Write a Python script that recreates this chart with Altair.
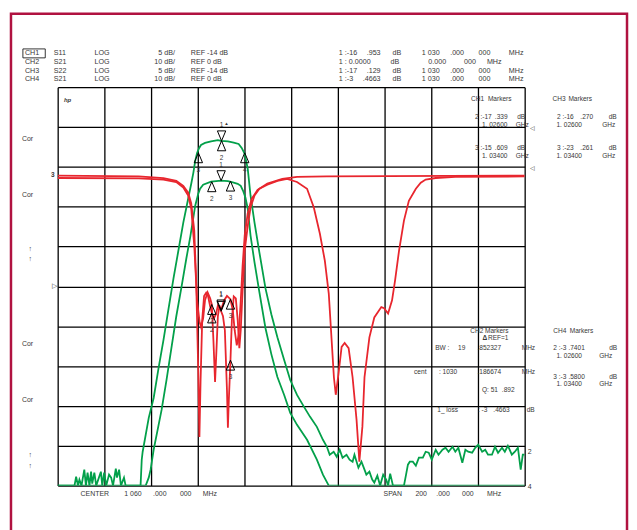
import altair as alt
import pandas as pd

FONT = "Liberation Sans"
INK = "#383838"
RED = "#e8262e"
GREEN = "#03a04a"
BORDER = "#b01240"

X0, Y0 = 58, 86          # page position of the graticule
W, H = 470, 401

HDR = 7.2    # header font size
PAN = 6.6    # marker panel font size

# ---------------- data ----------------
F_DOMAIN = [960, 1160]   # CENTER 1060 MHz, SPAN 200 MHz
GRID_F = [960, 980, 1000, 1020, 1040, 1060, 1080, 1100, 1120, 1140, 1160]

# CH1 S11, 5 dB/div, REF -14 dB
ch1_f = [960.0, 994.7, 1005.3, 1010.8, 1013.8, 1015.9, 1017.2, 1018.5, 1019.3, 1020.2,
         1020.7, 1021.2, 1021.9, 1022.7, 1023.6, 1024.4, 1025.3, 1026.0, 1026.9, 1027.8,
         1028.6, 1030.0, 1031.2, 1032.5, 1034.0, 1035.0, 1035.8, 1036.7, 1037.5, 1038.4,
         1039.2, 1040.1, 1041.4, 1043.1, 1045.6, 1049.8, 1056.2, 1062.5, 1075.3, 1160.0]
ch1_db = [-0.1, -0.2, -0.4, -0.75, -1.4, -2.25, -3.6, -7.0, -13.2, -24.5,
          -32.9, -25.8, -18.2, -15.2, -14.8, -15.2, -16.5, -17.34, -18.0, -17.5,
          -16.4, -16.95, -15.8, -15.2, -15.61, -17.0, -19.5, -21.4, -20.1, -15.8,
          -11.4, -7.6, -4.8, -3.0, -1.9, -1.1, -0.5, -0.25, -0.2, -0.1]

# CH3 S22, 5 dB/div, REF -14 dB
ch3_f = [960.0, 994.7, 1005.3, 1010.8, 1013.8, 1015.9, 1017.2, 1018.5, 1019.7, 1020.8,
         1021.4, 1022.3, 1023.1, 1024.2, 1025.3, 1026.0, 1026.7, 1027.4, 1028.0, 1028.6,
         1029.3, 1030.0, 1030.8, 1031.6, 1032.5, 1032.9, 1033.3, 1034.0, 1034.6, 1035.4,
         1036.3, 1037.1, 1037.8, 1038.4, 1039.2, 1040.1, 1041.4, 1042.6, 1044.3, 1046.4,
         1049.8, 1054.1, 1058.3, 1062.5, 1066.8, 1069.7, 1072.3, 1074.4, 1076.1, 1077.4,
         1078.3, 1079.1, 1080.3, 1081.6, 1082.9, 1084.6, 1086.3, 1088.0, 1089.2, 1090.5,
         1091.4, 1093.5, 1095.6, 1098.6, 1099.8, 1101.5, 1103.2, 1104.5, 1106.2, 1108.3,
         1110.4, 1113.4, 1115.5, 1117.6, 1121.9, 1130.3, 1160.0]
ch3_db = [-0.4, -0.45, -0.6, -0.9, -1.6, -2.6, -4.25, -8.9, -15.75, -18.5,
          -19.1, -18.0, -15.75, -14.75, -15.5, -16.27, -20.75, -26.0, -22.0, -17.75,
          -16.4, -17.13, -17.75, -19.5, -27.0, -31.75, -28.25, -23.26, -18.25, -15.25,
          -15.5, -18.25, -21.75, -19.5, -14.5, -9.5, -6.4, -4.1, -2.6, -1.75,
          -1.25, -0.75, -0.5, -0.9, -1.75, -4.1, -7.4, -10.75, -14.9, -21.1,
          -25.4, -27.6, -24.9, -21.6, -21.1, -21.75, -25.4, -30.75, -36.0, -31.6,
          -25.4, -20.4, -17.9, -16.6, -16.75, -17.4, -15.75, -13.25, -9.5, -5.75,
          -3.25, -1.75, -1.0, -0.6, -0.4, -0.25, -0.2]

# CH2 S21, 10 dB/div, REF 0 dB (upper trace)
ch2_f = [960.0, 967.2, 967.9, 968.7, 969.3, 970.2, 971.4, 972.1, 972.8, 973.6,
         974.3, 974.8, 975.7, 976.5, 978.5, 979.1, 979.9, 980.8, 982.0, 982.9,
         983.7, 984.9, 985.4, 986.3, 987.1, 988.4, 989.1, 995.5, 996.0, 996.4,
         999.0, 1001.1, 1003.2, 1005.3, 1007.5, 1009.6, 1011.7, 1013.8, 1015.1, 1016.4,
         1017.2, 1018.1, 1018.9, 1019.7, 1020.6, 1021.4, 1023.1, 1025.7, 1028.6, 1030.0,
         1032.9, 1035.4, 1037.5, 1038.8, 1040.1, 1041.4, 1042.6, 1044.3, 1046.4, 1049.0,
         1051.5, 1054.1, 1057.0, 1059.6, 1062.5, 1065.5, 1068.1, 1071.0, 1073.6, 1075.3,
         1076.5, 1078.2, 1079.5, 1080.8, 1082.0, 1083.7, 1085.0, 1086.3, 1087.1, 1088.8,
         1090.1, 1091.4, 1092.2, 1093.5, 1094.7, 1095.6, 1096.9, 1098.1, 1099.4, 1100.7,
         1101.5, 1102.4, 1103.6, 1108.3, 1109.2, 1110.0, 1110.8, 1112.1, 1113.4, 1114.7,
         1116.4, 1117.6, 1118.9, 1120.2, 1121.9, 1123.1, 1124.8, 1126.1, 1127.4, 1129.1,
         1130.3, 1131.6, 1133.3, 1134.6, 1135.8, 1137.5, 1138.8, 1140.1, 1141.8, 1143.1,
         1144.3, 1146.0, 1147.3, 1148.6, 1150.3, 1151.5, 1152.8, 1154.5, 1155.8, 1157.1,
         1158.3, 1159.2, 1160.0]
ch2_db = [-91, -91, -87.75, -91, -88.5, -91, -86.0, -91, -86.75, -90,
          -86.5, -89.5, -86.75, -91, -86.5, -91, -86.75, -90, -87.25, -88,
          -91, -85.75, -88, -86, -90, -88, -91, -91, -83.5, -81.5,
          -73.0, -68.0, -60.5, -53.5, -45.5, -38.0, -31.0, -24.0, -20.25, -16.5,
          -14.25, -11.5, -8.5, -6.5, -5.25, -4.5, -4.0, -3.6, -3.3, -3.47,
          -3.6, -3.9, -4.25, -5.25, -6.75, -10.5, -17.25, -24.0, -31.5, -40.5,
          -47.0, -52.75, -58.5, -63.5, -67.25, -70.25, -72.75, -75.25, -78.5, -80.25,
          -82.25, -81.5, -82.75, -81.0, -83.0, -82.25, -83.5, -84.0, -82.25, -85.5,
          -84.0, -86.0, -87.25, -86.5, -88.5, -89.25, -87.5, -90.0, -87.25, -88.5,
          -91, -87.0, -91, -91, -87.25, -84.75, -84.0, -84.0, -85.0, -83.0,
          -83.0, -81.5, -81.75, -83.5, -81.0, -82.25, -81.0, -80.5, -81.5, -80.25,
          -81.5, -80.5, -84.25, -81.0, -81.5, -81.75, -80.5, -79.75, -81.5, -81.0,
          -82.25, -82.25, -80.25, -81.75, -80.5, -81.5, -80.0, -82.25, -81.5, -80.5,
          -86.0, -82.25, -82.25]

# CH4 S21, 10 dB/div, REF 0 dB (lower trace)
ch4_f = [960.0, 997.3, 997.7, 999.0, 999.8, 1001.1, 1002.8, 1004.5, 1006.6, 1008.7,
         1010.8, 1013.0, 1015.1, 1016.8, 1018.1, 1018.9, 1020.2, 1021.0, 1022.3, 1025.7,
         1030.0, 1032.9, 1035.0, 1037.1, 1038.4, 1039.4, 1040.4, 1041.4, 1042.6, 1044.3,
         1046.4, 1049.0, 1051.5, 1054.1, 1057.0, 1059.6, 1062.5, 1066.8, 1071.0, 1073.6,
         1076.1, 1077.4, 1160.0]
ch4_db = [-85, -85, -80.25, -78.0, -76.0, -71.0, -66.0, -61.0, -53.5, -45.5,
          -37.5, -30.25, -23.0, -17.5, -12.75, -9.75, -6.75, -5.5, -4.5, -3.7,
          -3.47, -3.6, -3.9, -4.25, -4.75, -6.0, -7.7, -10.5, -17.25, -24.0,
          -31.5, -40.5, -47.0, -52.75, -57.25, -61.75, -64.75, -68.5, -73.5, -77.25,
          -80.25, -85, -85]

# markers
mk_f = [1030, 1026, 1034]
mk_lbl = ["1", "2", "3"]
mk_kind = ["down", "up", "up"]
ch1_mk = [-16.953, -17.339, -15.609]
ch3_mk = [-17.129, -16.270, -23.261]
ch4_mk = [-3.4663, -3.7401, -3.5800]
ch2_mk_f = [1030.19, 1030.19, 1020.26, 1040.11]
ch2_mk_db = [-3.47, -3.47, -6.47, -6.47]
ch2_mk_lbl = ["1", "2", "3", "4"]
ch2_mk_kind = ["down", "up", "up", "up"]

# header readouts
hdr_ch = ["CH1", "CH2", "CH3", "CH4"]
hdr_par = ["S11", "S21", "S22", "S21"]
hdr_fmt = ["LOG", "LOG", "LOG", "LOG"]
hdr_scale = ["5 dB/", "10 dB/", "5 dB/", "10 dB/"]
hdr_ref = ["REF -14 dB", "REF 0 dB", "REF -14 dB", "REF 0 dB"]
hdr_mk_a = ["1 :-16", "1 : 0.0000", "1 :-17", "1 :-3"]
hdr_mk_b = [".953", "", ".129", ".4663"]
hdr_freq = [["1 030", ".000", "000", "MHz"], ["", "0.000", "000", "MHz"],
            ["1 030", ".000", "000", "MHz"], ["1 030", ".000", "000", "MHz"]]

DOM_RL = [-39, 11]     # CH1/CH3: REF -14 dB at centre line, 5 dB/div
DOM_CH2 = [-90, 10]
DOM_CH4 = [-80, 20]

# ---------------- helpers ----------------
ONE = pd.DataFrame({"k": [0]})
XS = alt.Scale(domain=F_DOMAIN, nice=False, zero=False)
X_AXIS = alt.Axis(values=GRID_F, grid=True, gridColor="black", gridWidth=1.3,
                  gridOpacity=1, labels=False, ticks=False, domain=False, title=None)
Y_AXIS = alt.Axis(values=list(range(-90, 11, 10)), grid=True, gridColor="black",
                  gridWidth=1.3, gridOpacity=1, labels=False, ticks=False,
                  domain=False, title=None)
UP = "M0,0L0.42,1L-0.42,1Z"
DOWN = "M0,0L0.42,-1L-0.42,-1Z"


def xenc():
    return alt.X("f:Q", scale=XS, axis=X_AXIS)


def yenc(dom, axis=None):
    return alt.Y("db:Q", scale=alt.Scale(domain=dom, nice=False, zero=False, clamp=True),
                 axis=axis)


def trace(f, db, dom, color, axis=None):
    return alt.Chart(pd.DataFrame({"f": f, "db": db})).mark_line(
        color=color, strokeWidth=1.8, clip=True).encode(x=xenc(), y=yenc(dom, axis))


def markers(f, db, lbl, kind, dom):
    df = pd.DataFrame({"f": f, "db": db, "lbl": lbl, "kind": kind})
    base = alt.Chart(df).encode(x=xenc(), y=yenc(dom))
    pts = base.mark_point(size=400, filled=False, color="black", strokeWidth=1,
                          opacity=1).encode(
        shape=alt.Shape("kind:N", scale=alt.Scale(domain=["down", "up"], range=[DOWN, UP]),
                        legend=None))
    up = base.transform_filter(alt.datum.kind == "up").mark_text(
        dy=17, fontSize=6.5, font=FONT, color=INK).encode(text="lbl:N")
    dn = base.transform_filter(alt.datum.kind == "down").mark_text(
        dy=-16, fontSize=6.5, font=FONT, color=INK).encode(text="lbl:N")
    return [pts, up, dn]


def T(text, x, y, size=HDR, align="left", weight="normal", style="normal", color=INK):
    return alt.Chart(ONE).mark_text(
        text=text, align=align, baseline="middle", fontSize=size, font=FONT,
        fontWeight=weight, fontStyle=style, color=color).encode(
        x=alt.value(x - X0), y=alt.value(y - Y0))


def P(text, x, y, **kw):
    return T(text, x, y, size=PAN, **kw)


def box(x1, x2, y1, y2, color, width):
    return alt.Chart(ONE).mark_rect(fillOpacity=0, stroke=color, strokeWidth=width).encode(
        x=alt.value(x1 - X0), x2=alt.value(x2 - X0), y=alt.value(y1 - Y0), y2=alt.value(y2 - Y0))


layers = [
    trace(ch2_f, ch2_db, DOM_CH2, GREEN, Y_AXIS),
    trace(ch4_f, ch4_db, DOM_CH4, GREEN),
    trace(ch1_f, ch1_db, DOM_RL, RED),
    trace(ch3_f, ch3_db, DOM_RL, RED),
]
layers += markers(mk_f, ch1_mk, mk_lbl, mk_kind, DOM_RL)
layers += markers(mk_f, ch3_mk, mk_lbl, mk_kind, DOM_RL)
layers += markers(mk_f, ch4_mk, mk_lbl, mk_kind, DOM_CH4)
layers += markers(ch2_mk_f, ch2_mk_db, ch2_mk_lbl, ch2_mk_kind, DOM_CH2)

ann = []
# header
rows_y = [52, 60.7, 69.3, 78]
for i, yy in enumerate(rows_y):
    ann.append(T(hdr_ch[i], 25, yy))
    ann.append(T(hdr_par[i], 54, yy))
    ann.append(T(hdr_fmt[i], 95, yy))
    ann.append(T(hdr_scale[i], 176, yy, align="right"))
    ann.append(T(hdr_ref[i], 192, yy))
    ann.append(T(hdr_mk_a[i], 341, yy))
    if hdr_mk_b[i]:
        ann.append(T(hdr_mk_b[i], 365 if i == 3 else 369, yy))
    ann.append(T("dB", 393 if i == 1 else 395, yy))
    fq = hdr_freq[i]
    if i == 1:
        ann += [T(fq[1], 431, yy), T(fq[2], 467, yy), T(fq[3], 490, yy)]
    else:
        fx = [424.5, 453, 481.6, 512]
        ann += [T(fq[k], fx[k], yy) for k in range(4)]
ann.append(box(23, 45.5, 47.5, 56.5, "black", 0.8))

# left margin
for yy in [138, 194.5, 344.5, 401]:
    ann.append(T("Cor", 22, yy, size=7))
for yy in [248.5, 259, 456.5, 467]:
    ann.append(T("↑", 30.5, yy, size=7, align="center", weight="bold"))
ann.append(T("3", 53, 174.5, size=6.5, align="center", weight="bold"))
ann.append(T("▷", 55, 286, size=7, align="center"))
ann.append(T("hp", 68, 98.5, size=6, align="center", weight="bold", style="italic"))

# right edge
ann.append(T("◁", 535.5, 127.5, size=6, align="center"))
ann.append(T("◁", 535.5, 167, size=6, align="center"))
ann.append(T("2", 531, 453.5, size=7))
ann.append(T("4", 531, 488, size=7))
ann.append(T("▲", 228, 123.5, size=4.5, align="center"))

# CH1 / CH3 marker panels
ann += [P("CH1", 474, 98), P("Markers", 491, 98),
        P("2 :-17", 478, 116.5), P(".339", 498, 116.5), P("dB", 520.5, 116.5),
        P("1. 02600", 485, 124), P("GHz", 519, 124),
        P("3 :-15", 478, 147), P(".609", 498, 147), P("dB", 520.5, 147),
        P("1. 03400", 485, 155.5), P("GHz", 519, 155.5)]
ann += [P("CH3", 556, 98), P("Markers", 572, 98),
        P("2 :-16", 560.5, 116.5), P(".270", 584, 116.5), P("dB", 612.5, 116.5),
        P("1. 02600", 560, 124), P("GHz", 606, 124),
        P("3 :-23", 560.5, 147), P(".261", 584, 147), P("dB", 612.5, 147),
        P("1. 03400", 560, 155.5), P("GHz", 606, 155.5)]
# CH2 / CH4 marker panels
ann += [P("CH2", 473.3, 331), P("Markers", 488, 331),
        P("Δ", 485.5, 338.5, weight="bold"), P("REF=1", 491, 338.5),
        P("BW :", 438, 348.5), P("19", 461, 348.5), P(".852327", 480.5, 348.5),
        P("MHz", 525, 348.5),
        P("cent", 416.7, 372.5), P(": 1030", 441.7, 372.5), P(".186674", 480.5, 372.5),
        P("MHz", 525, 372.5),
        P("Q: 51", 485, 390.5), P(".892", 505, 390.5),
        P("1_ loss", 440, 410.5), P(": -3", 481, 410.5), P(".4663", 496.5, 410.5),
        P("dB", 530, 410.5)]
ann += [P("CH4", 556.7, 331), P("Markers", 573.3, 331),
        P("2 :-3", 556.7, 349), P(".7401", 572, 349), P("dB", 613, 349),
        P("1. 02600", 560, 356.5), P("GHz", 603, 356.5),
        P("3 :-3", 556.7, 377.5), P(".5800", 572, 377.5), P("dB", 613, 377.5),
        P("1. 03400", 560, 384.5), P("GHz", 603, 384.5)]
# bottom
ann += [T("CENTER", 81, 495, size=7), T("1 060", 125, 495, size=7),
        T(".000", 154, 495, size=7), T("000", 181, 495, size=7), T("MHz", 204, 495, size=7),
        T("SPAN", 386, 495, size=7), T("200", 418, 495, size=7),
        T(".000", 439, 495, size=7), T("000", 465, 495, size=7), T("MHz", 490, 495, size=7)]
# page border
ann.append(box(11, 631, 12, 600, BORDER, 2.5))

chart = alt.layer(*(layers + ann)).resolve_scale(y="independent").properties(
    width=W, height=H,
    padding={"left": 50, "top": 78, "right": 105, "bottom": 43},
    autosize=alt.AutoSizeParams(type="none"),
    background="white",
).configure_view(strokeWidth=0)

chart.save("out.html", embed_options={"renderer": "svg", "actions": False})
